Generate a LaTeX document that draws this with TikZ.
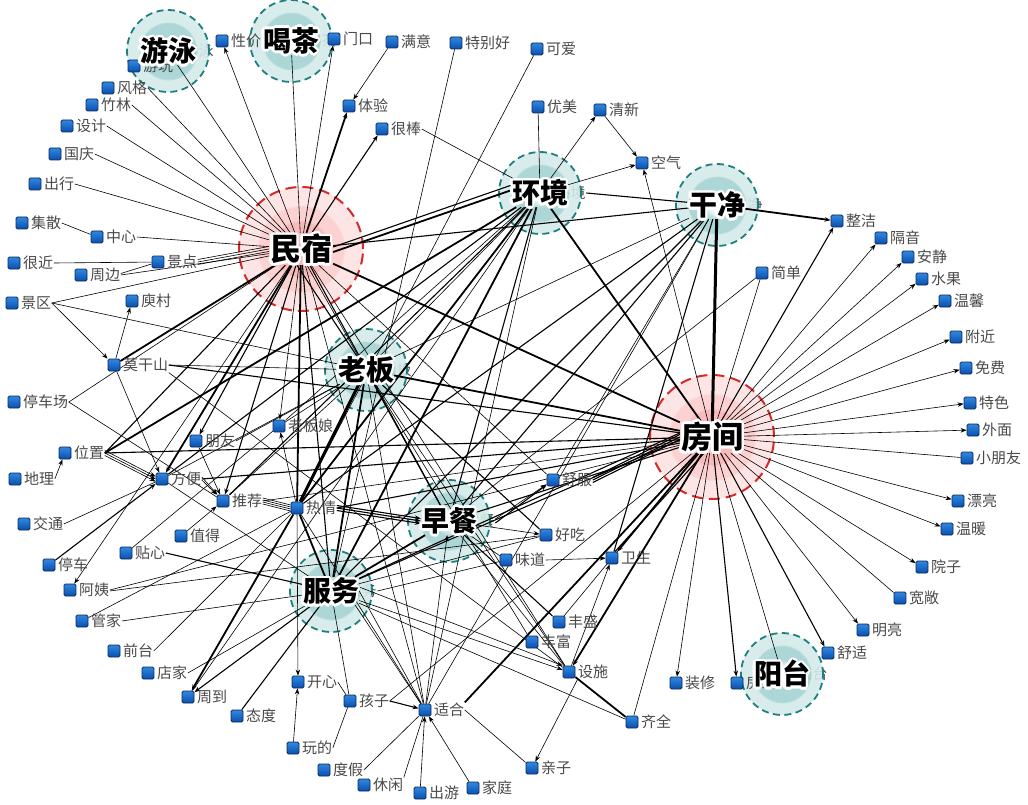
\documentclass[tikz,border=0pt]{standalone}
\usepackage{fontspec}
\newfontfamily\cjk{Noto Sans CJK SC}
\usetikzlibrary{arrows.meta,calc}
\pgfdeclarelayer{bg}\pgfdeclarelayer{circ}\pgfdeclarelayer{edg}\pgfdeclarelayer{front}
\pgfsetlayers{bg,circ,edg,main,front}
\definecolor{tA}{HTML}{D5EBEB}
\definecolor{tB}{HTML}{A5D3D3}
\definecolor{tW}{HTML}{EEF7F7}
\definecolor{tD}{HTML}{1F7F7F}
\definecolor{rA}{HTML}{FDE4E4}
\definecolor{rB}{HTML}{FBCFCF}
\definecolor{rC}{HTML}{F8B8B8}
\definecolor{rD}{HTML}{D42A2A}
\definecolor{sqA}{HTML}{3088E0}
\definecolor{sqB}{HTML}{0B4FAE}
\definecolor{sqD}{HTML}{0A2A5E}
\definecolor{lblgray}{HTML}{4A4A4A}
\pgfdeclareradialshading{tealhub}{\pgfpoint{0bp}{0bp}}{color(0bp)=(white); color(5bp)=(tW); color(9bp)=(tB); color(17bp)=(tB); color(18bp)=(tA); color(25bp)=(tA); color(50bp)=(tA)}
\pgfdeclareradialshading{redhub}{\pgfpoint{0bp}{0bp}}{color(0bp)=(rC); color(11bp)=(rC); color(11.8bp)=(rB); color(17bp)=(rB); color(17.8bp)=(rA); color(25bp)=(rA); color(50bp)=(rA)}
\tikzset{
  sq/.style={rectangle,rounded corners=1.5pt,minimum size=12pt,inner sep=0pt,draw=sqD,line width=0.8pt,top color=sqA,bottom color=sqB},
  lbl/.style={anchor=west,inner sep=0.5pt,font=\cjk\fontsize{15}{16}\selectfont,text=lblgray},
  hubn/.style={rectangle,inner sep=0pt,minimum width=56pt,minimum height=28pt},
  hubnr/.style={rectangle,inner sep=0pt,minimum width=64pt,minimum height=32pt},
  hubtxt/.style={inner sep=0pt,font=\cjk\bfseries\fontsize{28}{30}\selectfont},
  hubtxtr/.style={inner sep=0pt,font=\cjk\bfseries\fontsize{31}{33}\selectfont},
  tealdash/.style={draw=tD,line width=1.8pt,dash pattern=on 7pt off 4.5pt},
  reddash/.style={draw=rD,line width=2pt,dash pattern=on 11pt off 6pt},
  e1/.style={draw=black,line width=0.6pt},
  e2/.style={draw=black,line width=1.1pt},
  e3/.style={draw=black,line width=1.8pt},
  e4/.style={draw=black,line width=3pt},
  ar/.style={-{Stealth[length=6pt,width=4.5pt]}}
}
\newcommand\kw[3]{\node[sq] (#1) at (#2) {};\node[lbl] (#1-l) at ([xshift=2pt]#1.east) {#3};}
\newcommand\kwh[3]{\node[sq] (#1) at (#2) {};\begin{pgfonlayer}{circ}\node[lbl] (#1-l) at ([xshift=2pt]#1.east) {#3};\end{pgfonlayer}}
\newcommand\hubT[3]{%
  \node[hubn] (#1) at (#2) {};
  \begin{pgfonlayer}{circ}
    \node[lbl] (#1-h) at ([xshift=15pt]#1.center) {#3};
    \shade[shading=tealhub,opacity=0.9] (#1.center) circle (41pt);
    \draw[tealdash] (#1.center) circle (41pt);
  \end{pgfonlayer}
  \begin{pgfonlayer}{front}
    \foreach \a in {0,22.5,...,337.5} \path (#1.center) ++(\a:2.6pt) node[hubtxt,text=white] {#3};
    \node[hubtxt] (#1-t) at (#1.center) {#3};
  \end{pgfonlayer}}
\newcommand\hubR[3]{%
  \node[hubnr] (#1) at (#2) {};
  \begin{pgfonlayer}{circ}
    \shade[shading=redhub,opacity=0.95] (#1.center) circle (62pt);
    \draw[reddash] (#1.center) circle (62pt);
  \end{pgfonlayer}
  \begin{pgfonlayer}{front}
    \foreach \a in {0,22.5,...,337.5} \path (#1.center) ++(\a:2.8pt) node[hubtxtr,text=white] {#3};
    \node[hubtxtr] (#1-t) at (#1.center) {#3};
  \end{pgfonlayer}}
\begin{document}
\begin{tikzpicture}[x=1pt,y=-1pt]
\begin{pgfonlayer}{bg}
\fill[white] (0,0) rectangle (1028,805);
\end{pgfonlayer}
\useasboundingbox (0,0) rectangle (1028,805);
% hubs
\hubR{minsu}{301,249}{民宿}
\hubR{fangjian}{712,437}{房间}
\hubT{huanjing}{540,193}{环境}
\hubT{ganjing}{717,205}{干净}
\hubT{laoban}{366,370}{老板}
\hubT{zaocan}{449,521}{早餐}
\hubT{fuwu}{331,591}{服务}
\hubT{youyong}{168,51}{游泳}
\hubT{hecha}{291,41}{喝茶}
\hubT{yangtai}{782,674}{阳台}
% keywords
\kwh{xingjia}{222,41}{性价}
\kw{menkou}{334,39}{门口}
\kw{manyi}{392,42}{满意}
\kw{tebiehao}{456,43}{特别好}
\kw{keai}{537,49}{可爱}
\kwh{youwan}{134,66}{游玩}
\kw{fengge}{108,88}{风格}
\kw{zhulin}{92,105}{竹林}
\kw{sheji}{67,126}{设计}
\kw{guoqing}{55,154}{国庆}
\kw{chuxing}{35,184}{出行}
\kw{jisan}{22,223}{集散}
\kw{zhongxin}{97,237}{中心}
\kw{henjin}{14,263}{很近}
\kw{zhoubian}{81,275}{周边}
\kw{jingdian}{158,262}{景点}
\kw{tiyan}{349,106}{体验}
\kw{henbang}{382,129}{很棒}
\kw{youmei}{538,107}{优美}
\kw{qingxin}{600,110}{清新}
\kw{kongqi}{642,163}{空气}
\kw{jiandan}{762,273}{简单}
\kw{zhengjie}{837,221}{整洁}
\kw{geyin}{881,238}{隔音}
\kw{anjing}{908,257}{安静}
\kw{shuiguo}{922,279}{水果}
\kw{wenxin}{945,301}{温馨}
\kw{fujin}{956,337}{附近}
\kw{mianfei}{966,368}{免费}
\kw{tese}{970,403}{特色}
\kw{waimian}{973,430}{外面}
\kw{xiaopy}{967,458}{小朋友}
\kw{piaoliang}{958,501}{漂亮}
\kw{wennuan}{947,529}{温暖}
\kw{yuanzi}{922,567}{院子}
\kw{kuanchang}{900,598}{宽敞}
\kw{mingliang}{863,630}{明亮}
\kw{shushi}{828,653}{舒适}
\kw{zhuangxiu}{676,683}{装修}
\kwh{fangdong}{737,683}{房东}
\kw{weisheng}{612,558}{卫生}
\kw{qiquan}{632,722}{齐全}
\kw{jingqu}{12,303}{景区}
\kw{yucun}{132,301}{庾村}
\kw{moganshan}{114,365}{莫干山}
\kw{tingchechang}{14,402}{停车场}
\kw{weizhi}{65,453}{位置}
\kw{dili}{15,479}{地理}
\kw{fangbian}{162,479}{方便}
\kw{pengyou}{196,441}{朋友}
\kw{laobanniang}{279,426}{老板娘}
\kw{tuijian}{223,501}{推荐}
\kw{reqing}{297,508}{热情}
\kw{jiaotong}{24,524}{交通}
\kw{zhide}{181,536}{值得}
\kw{tiexin}{126,553}{贴心}
\kw{tingche}{49,565}{停车}
\kw{ayi}{70,590}{阿姨}
\kw{guanjia}{82,621}{管家}
\kw{qiantai}{114,651}{前台}
\kw{dianjia}{148,673}{店家}
\kw{zhoudao}{188,697}{周到}
\kw{taidu}{237,716}{态度}
\kw{kaixin}{298,682}{开心}
\kw{wande}{293,748}{玩的}
\kw{dujia}{324,770}{度假}
\kw{xiuxian}{364,785}{休闲}
\kw{chuyou}{420,793}{出游}
\kw{jiating}{473,788}{家庭}
\kw{qinzi}{532,768}{亲子}
\kw{haizi}{350,701}{孩子}
\kw{shihe}{425,710}{适合}
\kw{shufu}{553,480}{舒服}
\kw{haochi}{546,535}{好吃}
\kw{weidao}{506,560}{味道}
\kw{fengsheng}{559,622}{丰盛}
\kw{fengfu}{532,642}{丰富}
\kw{sheshi}{569,672}{设施}
% edges
\begin{pgfonlayer}{edg}
% minsu
\foreach \n in {fengge,zhulin,sheji,guoqing,chuxing,zhongxin,zhoubian,jingqu,tingchechang} \draw[e1] (\n-l.east) -- (minsu);
\foreach \s in {-2.5,0,2.5} \draw[e1] ([yshift=\s pt]jingdian-l.east) -- ([yshift=\s pt]minsu.west);
\draw[e1] (youyong) -- (minsu);
\draw[e1] (hecha) -- (minsu);
\draw[e1,ar] (minsu) -- (xingjia);
\draw[e1,ar] (minsu) -- (menkou);
\draw[e3,ar] (minsu) -- (tiyan);
\draw[e2,ar] (minsu) -- (henbang);
\draw[e1,ar] (manyi) -- (tiyan);
\draw[e1] (jisan-l.east) -- (zhongxin);
\draw[e1] (henjin-l.east) -- (jingdian);
\draw[e1] ([yshift=1.5pt]zhoubian-l.east) -- (jingdian);
\draw[e3] ([yshift=-3pt]minsu.east) -- ([yshift=3pt]huanjing.west);
\draw[e2] ([yshift=2pt]minsu.east) -- ([yshift=8pt]huanjing.west);
\draw[e2] (minsu) -- (ganjing);
\draw[e3] (minsu) -- (fangjian);
\draw[e2] ([xshift=-4pt]minsu.south) -- (laoban);
\draw[e1] ([xshift=6pt]minsu.south) -- (laoban);
\draw[e3] (minsu) -- (moganshan);
\draw[e2] (minsu) -- (weizhi-l.east);
\draw[e3,ar] (minsu) -- (fangbian);
\draw[e2,ar] (minsu) -- (pengyou);
\draw[e2,ar] (minsu) -- (tuijian);
\draw[e1,ar] (minsu) -- (laobanniang);
\draw[e3] (minsu) -- (reqing);
\draw[e1,ar] (minsu) -- (ayi);
\draw[e2] (minsu) -- (fuwu);
\draw[e2] (minsu) -- (zaocan);
\draw[e1] (minsu) -- (shihe);
\draw[e1] (minsu) -- (shufu);
\draw[e1] (minsu) -- (sheshi);
% fangjian
\draw[e2,ar] (fangjian) -- (zhengjie);
\foreach \n in {geyin,anjing,shuiguo,wenxin,fujin,mianfei,tese,waimian,piaoliang,wennuan,yuanzi,mingliang,zhuangxiu} \draw[e1,ar] (fangjian) -- (\n);
\draw[e1] (fangjian) -- (xiaopy);
\draw[e1] (fangjian) -- (kuanchang);
\draw[e2,ar] (fangjian) -- (shushi);
\draw[e1] (fangjian) -- (yangtai);
\draw[e2,ar] (fangjian) -- (fangdong);
\draw[e1] (fangjian) -- (qiquan);
\draw[e3,ar] (fangjian) -- (weisheng);
\draw[e2] ([xshift=-8pt]fangjian.south) -- ([xshift=3pt]weisheng.north);
\draw[e3,ar] (fangjian) -- (sheshi);
\draw[e3] (fangjian) -- (shihe-l.north east);
\draw[e1] (fangjian) -- (jiandan);
\draw[e1,ar] (fangjian) -- (kongqi);
\draw[e4] (fangjian) -- (ganjing);
\draw[e3] (fangjian) -- (huanjing);
\draw[e3] (fangjian) -- (laoban);
\draw[e2] (fangjian) -- (moganshan-l.east);
\draw[e2] (fangjian) -- (weizhi-l.east);
\draw[e2] (fangjian) -- (fangbian-l.east);
\draw[e1] (fangjian) -- (tuijian-l.east);
\draw[e2] (fangjian) -- (reqing-l.east);
\foreach \s in {-2.5,0,2.5} \draw[e2] ([yshift=\s pt]fangjian.west) -- ([yshift=\s pt]shufu-l.east);
\draw[e2] (fangjian) -- (zaocan);
\draw[e2] ([yshift=-3pt]fangjian.west) -- (fuwu);
\draw[e2] ([yshift=4pt]fangjian.west) -- (fuwu);
\draw[e1] (fangjian) -- (ayi-l.east);
\draw[e1] (fangjian) -- (haizi-l.east);
\draw[e1] (fangjian) -- (fengsheng);
% huanjing
\draw[e1] (huanjing) -- (youmei);
\draw[e1,ar] (huanjing) -- (qingxin);
\draw[e1,ar] (huanjing) -- (kongqi);
\draw[e1,ar] (qingxin) -- (kongqi);
\draw[e1] (henbang-l.east) -- (huanjing);
\draw[e2] (huanjing-h.east) -- (ganjing);
\draw[e3] (huanjing) -- (weizhi-l.east);
\draw[e2] (huanjing) -- (fangbian);
\draw[e3] (huanjing) -- (reqing);
\draw[e3] (huanjing) -- (fuwu);
\draw[e2] (huanjing) -- (zaocan);
\draw[e1] (huanjing) -- (laoban);
\draw[e1] (huanjing) -- (shihe);
\draw[e1] (huanjing) -- (zhoudao);
\draw[e2] (huanjing) -- (tuijian);
\draw[e1] (huanjing) -- (laobanniang);
% ganjing
\draw[e3,ar] (ganjing) -- (zhengjie);
\draw[e1] (ganjing) -- (laoban);
\draw[e2] (ganjing) -- (fuwu);
\draw[e2] (ganjing) -- (zaocan);
\draw[e2] (ganjing) -- (reqing);
\draw[e2] (ganjing) -- (weisheng);
\draw[e1] (ganjing) -- (shihe);
\draw[e1] (ganjing) -- (shufu);
% laoban
\draw[e1] (laoban) -- (moganshan-l.east);
\draw[e1] (laoban) -- (jingqu-l.east);
\draw[e1] (laoban) -- (laobanniang);
\draw[e4] (laoban) -- (reqing);
\draw[e3] (laoban) -- (fuwu);
\draw[e2] (laoban) -- (zaocan);
\draw[e1] (laoban) -- (shihe);
\draw[e1] (laoban) -- (sheshi);
\draw[e2] (laoban) -- (haochi);
\draw[e1] (laoban) -- (fengfu);
\draw[e1] (laoban) -- (tuijian);
\draw[e1] (laoban) -- (pengyou-l.east);
\draw[e1] (laoban) -- (fangbian);
% zaocan
\foreach \s in {-2.5,0,2.5} \draw[e2,ar] ([yshift=\s pt]reqing-l.east) -- ([yshift=\s pt]zaocan.west);
\draw[e1,ar] (zaocan) -- (haochi);
\draw[e2,ar] ([yshift=-2pt]zaocan-h.east) -- (shufu);
\draw[e1,ar] ([yshift=2pt]zaocan-h.east) -- (shufu);
\draw[e1] (zaocan) -- (weidao);
\draw[e2] (zaocan) -- (fengsheng);
\draw[e3] (zaocan) -- (fuwu);
\draw[e1] (zaocan) -- (sheshi);
\draw[e1,ar] (shihe) -- (zaocan);
\draw[e1] (zaocan) -- (jiandan);
% fuwu
\draw[e2] (tiexin-l.east) -- (fuwu);
\draw[e1] (guanjia-l.east) -- (fuwu);
\draw[e1] (dianjia-l.east) -- (fuwu);
\draw[e2,ar] (fuwu) -- (zhoudao);
\draw[e2] (fuwu) -- (taidu);
\draw[e1] (fuwu) -- (haizi);
\draw[e1] ([xshift=-4pt]fuwu.south east) -- (shihe);
\draw[e1] (fuwu.east) -- (shihe);
\draw[e1,ar] (fuwu) -- (sheshi);
\draw[e1,ar] ([yshift=4pt]fuwu.east) -- (sheshi.north west);
\draw[e1] (fuwu) -- (qiquan);
\draw[e1] (fuwu-h.east) -- (weidao);
\draw[e1] (fuwu) -- (tebiehao);
\draw[e3] (fuwu) -- (reqing);
\draw[e1] (fuwu) -- (haochi);
% reqing
\foreach \s in {-3,-1,1,3} \draw[e1] ([yshift=\s pt]tuijian-l.east) -- ([yshift=\s pt]reqing.west);
\draw[e1,ar] (reqing) -- (laobanniang);
\draw[e3,ar] (reqing) -- (zhoudao);
\draw[e1,ar] (reqing) -- (kaixin);
\draw[e1] (keai) -- (reqing);
\draw[e1] (guanjia) -- (reqing);
\draw[e1] (qiantai-l.east) -- (reqing);
\draw[e1] (reqing) -- (shihe);
% others
\draw[e1,ar] (jingqu-l.east) -- (moganshan);
\draw[e1,ar] (moganshan) -- (yucun);
\draw[e1,ar] (moganshan) -- (fangbian);
\draw[e1] (moganshan-l.south east) -- (sheshi);
\draw[e1,ar] (dili-l.east) -- (weizhi);
\foreach \s in {-2.5,0,2.5} \draw[e1,ar] ([yshift=\s pt]weizhi-l.east) -- ([yshift=\s pt]fangbian.west);
\draw[e1] (jiaotong-l.east) -- (fangbian);
\draw[e2,ar] (tingche) -- (fangbian);
\draw[e1,ar] (pengyou) -- (tuijian);
\draw[e1,ar] (zhide) -- (tuijian);
\draw[e1,ar] ([yshift=2pt]fangbian-l.east) -- (tuijian);
\draw[e1,ar] ([yshift=-1pt]fangbian-l.east) -- (tuijian.north west);
\draw[e1] (tingchechang-l.east) -- (tuijian);
\draw[e1] (tiexin) -- (laobanniang);
\draw[e1] ([yshift=-1pt]ayi-l.east) -- (haochi);
\draw[e1] (fangbian) -- (fuwu);
\draw[e1,ar] (wande) -- (kaixin);
\draw[e1] (wande-l.east) -- (haizi);
\draw[e1] (kaixin-l.east) -- (haizi);
\draw[e2,ar] (haizi-l.east) -- (shihe);
\draw[e1] (dujia-l.east) -- (shihe);
\draw[e1] (xiuxian-l.north east) -- (shihe);
\draw[e1,ar] (chuyou) -- (shihe);
\draw[e1,ar] (jiating) -- (shihe);
\draw[e1] (qinzi) -- (shihe-l.east);
\draw[e1,ar] (sheshi-l.south west) -- (qinzi);
\draw[e3] (sheshi) -- (qiquan);
\draw[e1,ar] (sheshi) -- (weisheng);
\draw[e1,ar] (weidao-l.east) -- (weisheng);
\end{pgfonlayer}
\end{tikzpicture}
\end{document}
